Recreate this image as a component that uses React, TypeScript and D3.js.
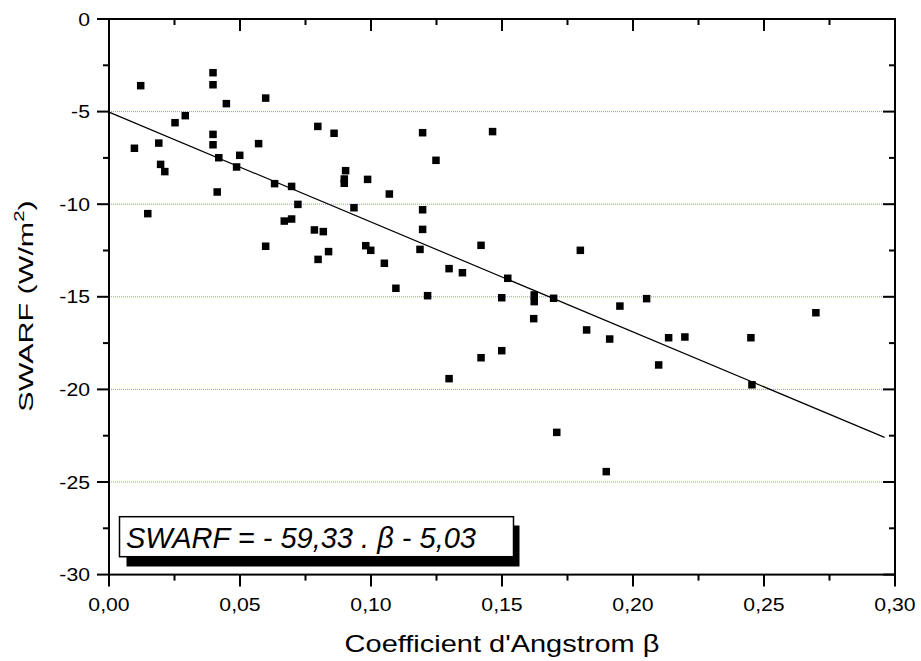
import React from "react";
import * as d3 from "d3";

const betaValues = [
  0.0097, 0.0121, 0.0148, 0.019, 0.0197, 0.0213, 0.0252, 0.0291, 0.0397, 0.0397,
  0.0397, 0.0397, 0.0413, 0.0419, 0.0448, 0.0487, 0.0499, 0.0571, 0.0598, 0.0598,
  0.0632, 0.0669, 0.0697, 0.0697, 0.0721, 0.0784, 0.0797, 0.0798, 0.0818, 0.0838,
  0.0859, 0.0898, 0.0898, 0.0903, 0.0935, 0.098, 0.0987, 0.0999, 0.1051, 0.107,
  0.1095, 0.1187, 0.1197, 0.1197, 0.1197, 0.1216, 0.1248, 0.1298, 0.1298, 0.1349,
  0.142, 0.142, 0.1464, 0.1499, 0.1499, 0.1522, 0.1623, 0.1623, 0.1621, 0.1697,
  0.1709, 0.1799, 0.1823, 0.1898, 0.1911, 0.195, 0.2052, 0.2098, 0.2136, 0.2198,
  0.245, 0.2454, 0.2698,
];
const swarfValues = [
  -6.98, -3.6, -10.51, -6.7, -7.85, -8.24, -5.6, -5.22, -2.9, -3.55,
  -6.23, -6.79, -9.34, -7.49, -4.57, -7.99, -7.36, -6.73, -4.27, -12.27,
  -8.89, -10.91, -9.04, -10.8, -10.01, -11.39, -5.8, -12.98, -11.48, -12.56,
  -6.17, -8.64, -8.87, -8.19, -10.19, -12.24, -8.66, -12.49, -13.19, -9.45,
  -14.54, -12.44, -6.14, -10.3, -11.36, -14.94, -7.63, -13.48, -19.42, -13.7,
  -12.22, -18.29, -6.08, -15.05, -17.91, -14.0, -14.9, -15.26, -16.18, -15.08,
  -22.32, -12.49, -16.79, -24.44, -17.28, -15.5, -15.1, -18.68, -17.21, -17.17,
  -17.21, -19.75, -15.86,
];
const fitSlope = -59.33;
const fitIntercept = -5.03;
const fitRange = [0, 0.296];

const xMajorTicks = [0, 0.05, 0.1, 0.15, 0.2, 0.25, 0.3];
const xMinorTicks = [0.025, 0.075, 0.125, 0.175, 0.225, 0.275];
const yMajorTicks = [0, -5, -10, -15, -20, -25, -30];
const yMinorTicks = [-2.5, -7.5, -12.5, -17.5, -22.5, -27.5];
const gridValues = [-5, -10, -15, -20, -25];

const xTitle = "Coefficient d'Angstrom β";
const equationText = "SWARF = - 59,33 . β - 5,03";

export default function App() {
  const left = 109, right = 895, top = 19, bottom = 574.6;
  const x = d3.scaleLinear().domain([0, 0.3]).range([left, right]);
  const y = d3.scaleLinear().domain([-30, 0]).range([bottom, top]);
  const fmtX = (v: number) => d3.format(".2f")(v).replace(".", ",");
  const line = d3
    .line<number>()
    .x((d) => x(d))
    .y((d) => y(fitSlope * d + fitIntercept));
  const font = "'Liberation Sans', Arial, sans-serif";
  const ms = 7.5;

  return (
    <svg
      width={921}
      height={661}
      style={{ position: "absolute", left: 0, top: 0, background: "#fff" }}
      fontFamily={font}
    >
      <rect x={0} y={0} width={921} height={661} fill="#fff" />
      {gridValues.map((v) => (
        <line
          key={"g" + v}
          x1={left}
          x2={right}
          y1={y(v)}
          y2={y(v)}
          stroke="#8c8cff"
          strokeWidth={1}
          strokeDasharray="1,1"
        />
      ))}
      <path d={line(fitRange) || ""} fill="none" stroke="#000" strokeWidth={1.2} />
      {betaValues.map((b, i) => (
        <rect
          key={"p" + i}
          x={x(b) - ms / 2}
          y={y(swarfValues[i]) - ms / 2}
          width={ms}
          height={ms}
          fill="#000"
        />
      ))}
      {/* frame */}
      <rect x={left} y={top} width={right - left} height={bottom - top} fill="none" stroke="#000" strokeWidth={2} />
      {/* x ticks */}
      {xMajorTicks.map((v) => (
        <g key={"xt" + v}>
          <line x1={x(v)} x2={x(v)} y1={bottom} y2={bottom + 12} stroke="#000" strokeWidth={2} />
          <line x1={x(v)} x2={x(v)} y1={top} y2={top + 12} stroke="#000" strokeWidth={2} />
          <text
            transform={`translate(${x(v)},611) scale(1.18,1)`}
            textAnchor="middle"
            fontSize={18}
            fill="#000"
          >
            {fmtX(v)}
          </text>
        </g>
      ))}
      {xMinorTicks.map((v) => (
        <g key={"xm" + v}>
          <line x1={x(v)} x2={x(v)} y1={bottom} y2={bottom + 6} stroke="#000" strokeWidth={2} />
          <line x1={x(v)} x2={x(v)} y1={top} y2={top + 6} stroke="#000" strokeWidth={2} />
        </g>
      ))}
      {/* y ticks */}
      {yMajorTicks.map((v) => (
        <g key={"yt" + v}>
          <line x1={left - 12} x2={left} y1={y(v)} y2={y(v)} stroke="#000" strokeWidth={2} />
          <line x1={right - 12} x2={right} y1={y(v)} y2={y(v)} stroke="#000" strokeWidth={2} />
          <text
            transform={`translate(90,${y(v) + 6.5}) scale(1.18,1)`}
            textAnchor="end"
            fontSize={18}
            fill="#000"
          >
            {String(v)}
          </text>
        </g>
      ))}
      {yMinorTicks.map((v) => (
        <g key={"ym" + v}>
          <line x1={left - 6} x2={left} y1={y(v)} y2={y(v)} stroke="#000" strokeWidth={2} />
          <line x1={right - 6} x2={right} y1={y(v)} y2={y(v)} stroke="#000" strokeWidth={2} />
        </g>
      ))}
      {/* titles */}
      <text
        transform={`translate(${(left + right) / 2},651.5) scale(1.26,1)`}
        textAnchor="middle"
        fontSize={23}
        fill="#000"
      >
        {xTitle}
      </text>
      <text
        transform="translate(33,306) rotate(-90) scale(1.45,1)"
        textAnchor="middle"
        fontSize={21}
        fill="#000"
      >
        SWARF (W/m
        <tspan fontSize={14} dy={-9}>2</tspan>
        <tspan dy={9}>)</tspan>
      </text>
      {/* equation box */}
      <rect x={126.5} y={525.5} width={393} height={41} fill="#000" />
      <rect x={119.5} y={516.7} width={394} height={40} fill="#fff" stroke="#000" strokeWidth={1.5} />
      <text x={126} y={547.7} fontSize={29} fontStyle="italic" fill="#000">
        {equationText}
      </text>
    </svg>
  );
}
